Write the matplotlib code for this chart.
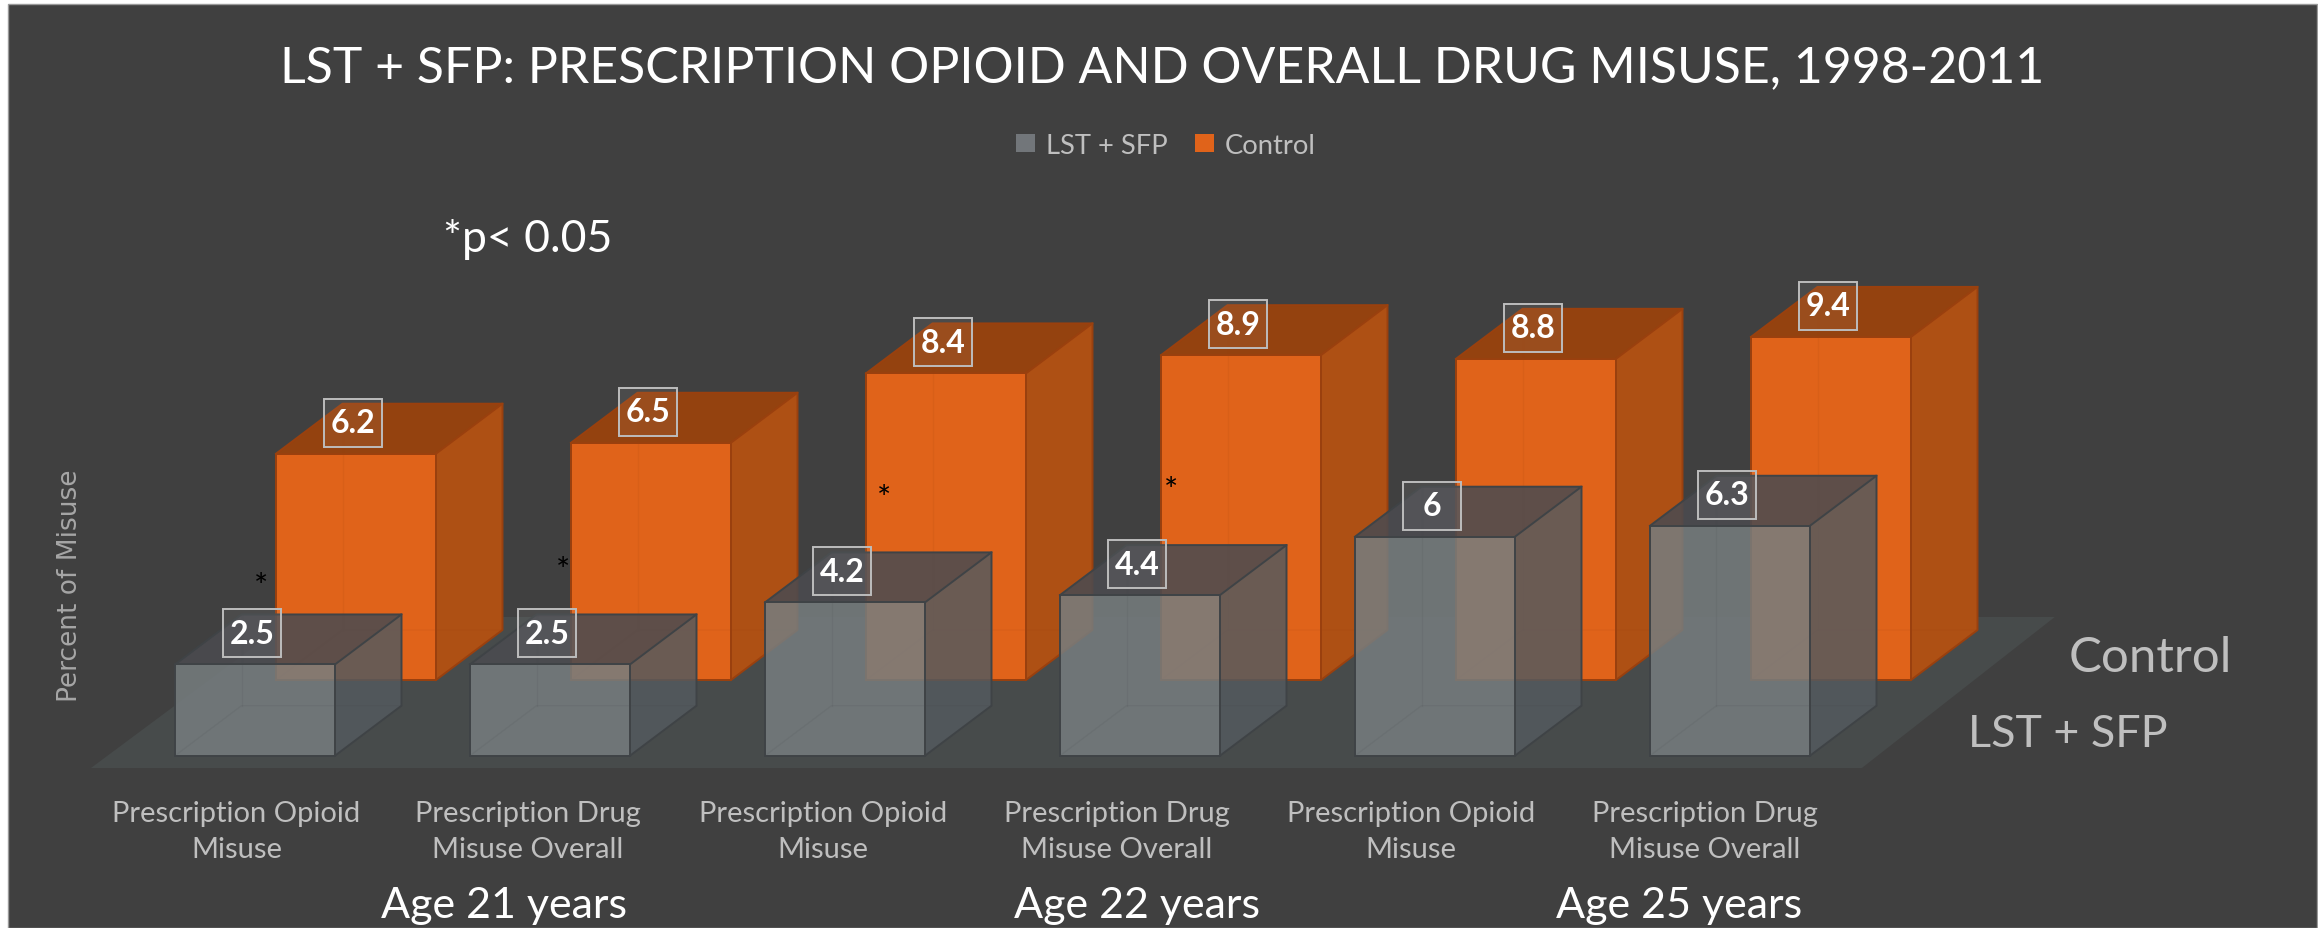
#plot.py
#3D style bar chart, drawn by hand as oblique boxes on a flat axes
import matplotlib
matplotlib.use('Agg')
import matplotlib.pyplot as plt
from matplotlib.patches import Patch, Rectangle

W, H = 2318, 929

categories = ['Prescription Opioid\nMisuse', 'Prescription Drug\nMisuse Overall',
              'Prescription Opioid\nMisuse', 'Prescription Drug\nMisuse Overall',
              'Prescription Opioid\nMisuse', 'Prescription Drug\nMisuse Overall']
lst_sfp = [2.5, 2.5, 4.2, 4.4, 6, 6.3]
control = [6.2, 6.5, 8.4, 8.9, 8.8, 9.4]
ages = ['Age 21 years', 'Age 22 years', 'Age 25 years']

plt.rcParams['font.family'] = ['Lato', 'DejaVu Sans']

#1 x unit is one category (295 px), 1 y unit is one percent (36.5 px)
PX_X = 295.0
PX_Y = 36.5
half_w = 80 / PX_X
box_dx = 66.5 / PX_X
box_dy = 50 / PX_Y
row_dx = 101 / PX_X
row_dy = 75.7 / PX_Y

fig = plt.figure(figsize=(W / 100, H / 100), dpi=100, facecolor='white')
ax = fig.add_axes([0, 0, 1, 1])
ax.set_xlim(-255 / PX_X, (W - 255) / PX_X)
ax.set_ylim(-(H - 756.7) / PX_Y, 756.7 / PX_Y)
ax.axis('off')

#dark panel and floor
ax.add_patch(Rectangle((8 / W, 0), 1 - 9 / W, 1 - 5 / H, transform=ax.transAxes,
                       facecolor='#404040', edgecolor='#9a9a9a', linewidth=1, zorder=0))
floor_x = [-0.556, 5.447, 6.101, 0.132]
floor_y = [-0.337, -0.337, 3.80, 3.80]
ax.fill(floor_x, floor_y, color='#474b4b', linewidth=0, zorder=1)


def draw_box(x, base, value, front, side, top, edge, zorder):
    l, r = x - half_w, x + half_w
    b, t = base, base + value
    ax.fill([l, r, r, l], [b, b, t, t], color=front[0], alpha=front[1], linewidth=0, zorder=zorder)
    ax.fill([r, r + box_dx, r + box_dx, r], [b, b + box_dy, t + box_dy, t],
            color=side[0], alpha=side[1], linewidth=0, zorder=zorder)
    ax.fill([l, r, r + box_dx, l + box_dx], [t, t, t + box_dy, t + box_dy],
            color=top[0], alpha=top[1], linewidth=0, zorder=zorder)
    #faint back edges, they show through the front
    ax.plot([l + box_dx, l + box_dx], [b + box_dy, t + box_dy], color=edge, lw=1, alpha=0.1, zorder=zorder)
    ax.plot([l, l + box_dx, r + box_dx], [b, b + box_dy, b + box_dy], color=edge, lw=1, alpha=0.1, zorder=zorder)
    ax.plot([l, r, r, l, l], [b, b, t, t, b], color=edge, lw=1.4, zorder=zorder)
    ax.plot([l, l + box_dx, r + box_dx, r], [t, t + box_dy, t + box_dy, t], color=edge, lw=1.4, zorder=zorder)
    ax.plot([r, r + box_dx, r + box_dx], [b, b + box_dy, t + box_dy], color=edge, lw=1.4, zorder=zorder)


def value_label(x, y, value):
    #box is centred a little left of the bar, above its front edge
    cx, cy = ax.transData.transform((x, y))
    cx, cy = cx - 3, cy + 31
    ax.add_patch(Rectangle((cx - 29, cy - 24), 58, 48, transform=None, facecolor='white', alpha=0.06,
                           linewidth=0, zorder=20))
    ax.add_patch(Rectangle((cx - 29, cy - 24), 58, 48, transform=None, facecolor='none',
                           edgecolor='#bdbdbd', linewidth=1.4, zorder=21))
    ax.text(cx / W, cy / H, str(value), transform=ax.transAxes, color='white', fontsize=23,
            fontweight='bold', ha='center', va='center', zorder=22)


#control row sits behind
for i, v in enumerate(control):
    draw_box(i + row_dx, row_dy, v, ('#e0631a', 1), ('#ae5014', 1), ('#94420f', 1), '#9a400e', 5 + i * 0.01)
for i, v in enumerate(lst_sfp):
    draw_box(i, 0, v, ('#767d7f', 0.86), ('#545a5f', 0.84), ('#4b4b50', 0.875), '#3f4346', 10 + i * 0.01)
for i, v in enumerate(control):
    value_label(i + row_dx, row_dy + v, v)
for i, v in enumerate(lst_sfp):
    value_label(i, v, v)


def px_text(x, y, s, **kw):
    kw.setdefault('ha', 'center')
    kw.setdefault('va', 'center')
    return fig.text(x / W, 1 - y / H, s, **kw)


px_text(1162, 68, 'LST + SFP: PRESCRIPTION OPIOID AND OVERALL DRUG MISUSE, 1998-2011',
        color='white', fontsize=36)
px_text(528, 240, '*p< 0.05', color='white', fontsize=32)
px_text(70, 586, 'Percent of Misuse', color='#a6a6a6', fontsize=19, rotation=90, family='DejaVu Sans')

label_x = [236.5, 527.6, 823, 1117, 1411, 1705]
for x, c in zip(label_x, categories):
    px_text(x, 832, c, color='#bfbfbf', fontsize=21, linespacing=1.45)
for x, a in zip([504, 1137, 1679], ages):
    px_text(x, 906, a, color='white', fontsize=31)

px_text(2150, 658, 'Control', color='#bfbfbf', fontsize=35.5)
px_text(2068, 735, 'LST + SFP', color='#bfbfbf', fontsize=32.3)

#significance stars
for x, y in zip([261, 563, 884, 1171], [579, 563, 491, 483]):
    px_text(x, y + 9, '*', color='black', fontsize=24)

handles = [Patch(facecolor='#72767a', edgecolor='none', label='LST + SFP'),
           Patch(facecolor='#e0631a', edgecolor='none', label='Control')]
fig.legend(handles=handles, loc='center', bbox_to_anchor=(1166 / W, 1 - 146 / H), ncol=2, frameon=False,
           fontsize=19.7, labelcolor='#bfbfbf', handlelength=0.68, handleheight=0.68, handletextpad=0.4,
           columnspacing=1.0)

fig.savefig('out.png', dpi=100, facecolor=fig.get_facecolor())
